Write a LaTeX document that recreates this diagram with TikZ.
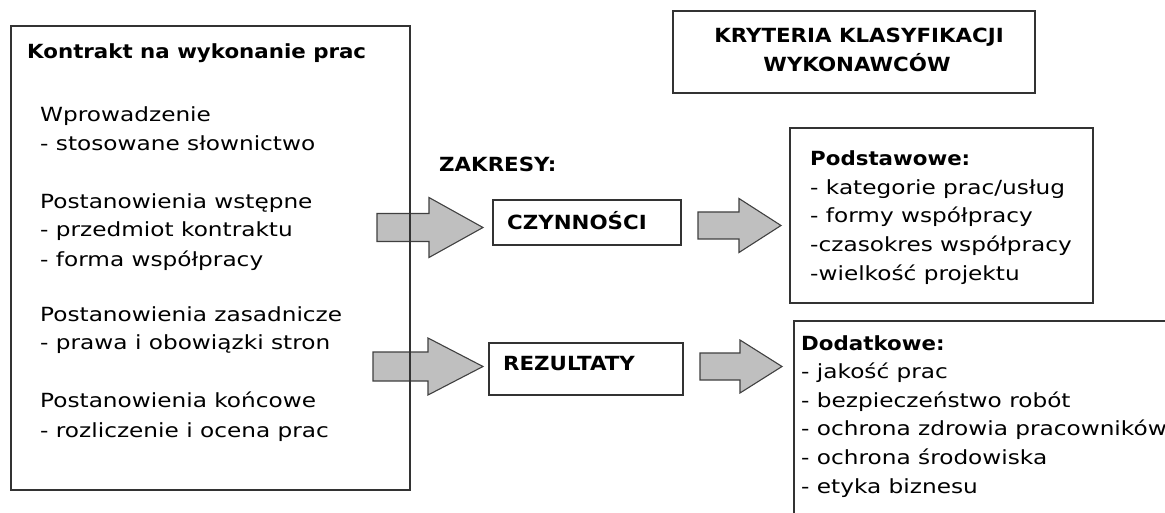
\documentclass[tikz,border=0pt]{standalone}
\usepackage{fontspec}
\setmainfont{DejaVu Sans}[FakeStretch=1.19]
\newfontfamily\hdrfont{DejaVu Sans Bold}[FakeStretch=1.095]
\begin{document}
\begin{tikzpicture}[x=1pt,y=-1pt,
  frame/.style={draw=black!80, line width=1.2pt},
  txt/.style={anchor=base west, inner sep=0pt, text=black, font=\fontsize{19.5}{28.6}\selectfont},
  hdr/.style={txt, font=\fontsize{19.5}{28.6}\hdrfont},
  blockarrow/.style={draw=black!75, fill=black!25, line width=1.1pt, line join=miter}]
% canvas
\clip (0,0) rectangle (1165,513);
\fill[white] (0,0) rectangle (1165,513);

% block arrow: tail x, head base x, tip x, centre y, body half-height, head half-height
\newcommand{\blockarrow}[7]{%
  \draw[blockarrow] (#2,#5-#6) -- (#3,#5-#6) -- (#3,#5-#7) -- (#4,#5)
    -- (#3,#5+#7) -- (#3,#5+#6) -- (#2,#5+#6) -- cycle;
  \coordinate (#1) at (#4,#5);}
\blockarrow{a1}{377}{429}{483}{227.5}{14}{30}
\blockarrow{a2}{698}{739}{781}{225.5}{13.5}{27}
\blockarrow{a3}{373}{428}{483}{366.5}{14.5}{28.5}
\blockarrow{a4}{700}{740}{782}{366.5}{13.5}{26.5}

% contract box
\draw[frame] (11,26) rectangle (410,490);
\node[hdr] (kt) at (27,59) {Kontrakt na wykonanie prac};
\node[txt] (k1) at (40,122) {Wprowadzenie};
\node[txt] (k2) at (40,151) {- stosowane słownictwo};
\node[txt] (k3) at (40,209) {Postanowienia wstępne};
\node[txt] (k4) at (40,237) {- przedmiot kontraktu};
\node[txt] (k5) at (40,266) {- forma współpracy};
\node[txt] (k6) at (40,321) {Postanowienia zasadnicze};
\node[txt] (k7) at (40,349) {- prawa i obowiązki stron};
\node[txt] (k8) at (40,407) {Postanowienia końcowe};
\node[txt] (k9) at (40,437) {- rozliczenie i ocena prac};

% scopes
\node[hdr] (zak) at (439,172) {ZAKRESY:};
\draw[frame] (493,200) rectangle (681,245);
\node[hdr] (czy) at (507,230) {CZYNNOŚCI};
\draw[frame] (489,343) rectangle (683,395);
\node[hdr] (rez) at (503,370) {REZULTATY};

% title box
\draw[frame] (673,11) rectangle (1035,93);
\node[hdr, anchor=base] (kr1) at (859,43) {KRYTERIA KLASYFIKACJI};
\node[hdr, anchor=base] (kr2) at (857,72) {WYKONAWCÓW};

% basic criteria
\draw[frame] (790,128) rectangle (1093,303);
\node[hdr] (p0) at (810,165.7) {Podstawowe:};
\node[txt] (p1) at (810,194.3) {- kategorie prac/usług};
\node[txt] (p2) at (810,222.9) {- formy współpracy};
\node[txt] (p3) at (810,251.5) {-czasokres współpracy};
\node[txt] (p4) at (810,280.1) {-wielkość projektu};

% additional criteria
\draw[frame] (794,321) rectangle (1220,560);
\node[hdr] (d0) at (801,350) {Dodatkowe:};
\node[txt] (d1) at (801,378.6) {- jakość prac};
\node[txt] (d2) at (801,407.2) {- bezpieczeństwo robót};
\node[txt] (d3) at (801,435.8) {- ochrona zdrowia pracowników};
\node[txt] (d4) at (801,464.4) {- ochrona środowiska};
\node[txt] (d5) at (801,493) {- etyka biznesu};
\end{tikzpicture}
\end{document}
